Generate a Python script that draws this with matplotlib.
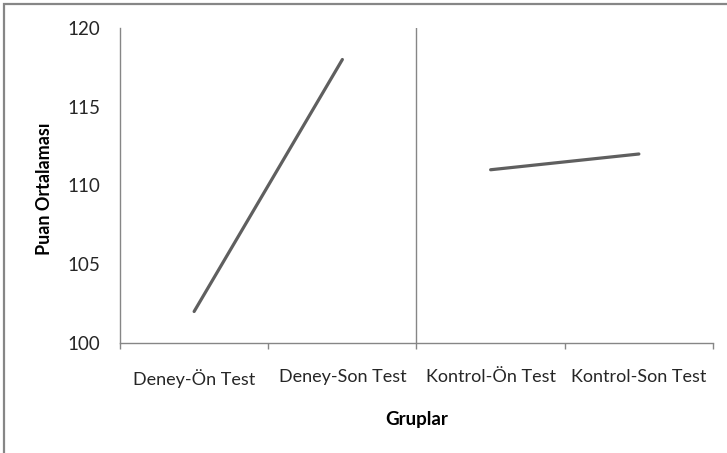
import matplotlib.pyplot as plt
from matplotlib.patches import Rectangle
import numpy as np

# data
groups = ["Deney-Ön Test", "Deney-Son Test", "Kontrol-Ön Test", "Kontrol-Son Test"]
deney = [102, 118]
kontrol = [111, 112]
y_ticks = [100, 105, 110, 115, 120]

plt.rcParams['font.family'] = ['Lato', 'DejaVu Sans']

fig = plt.figure(figsize=(7.27, 4.53), dpi=100)
ax = fig.add_axes([120 / 727, 1 - 343 / 453, 593 / 727, 315 / 453])

x = np.arange(len(groups))
line_color = '#5f5f5f'
ax.plot(x[:2], deney, color=line_color, lw=2.3, solid_capstyle='round')
ax.plot(x[2:], kontrol, color=line_color, lw=2.3, solid_capstyle='round')

ax.set_xlim(-0.5, len(groups) - 0.5)
ax.set_ylim(y_ticks[0], y_ticks[-1])
ax.set_yticks(y_ticks)
ax.set_xticks(x)
ax.set_xticklabels(groups)
ax.set_xticks(np.arange(-0.5, len(groups), 1), minor=True)

# separator between the two groups
ax.axvline(1.5, color='#868686', lw=1)

for side in ['top', 'right']:
    ax.spines[side].set_visible(False)
for side in ['left', 'bottom']:
    ax.spines[side].set_color('#868686')
    ax.spines[side].set_linewidth(1)

ax.tick_params(axis='y', length=0, pad=14, labelsize=13.5, labelcolor='#262626')
ax.tick_params(axis='x', which='major', length=0, pad=19, labelsize=13, labelcolor='#262626')
ax.tick_params(axis='x', which='minor', length=4, color='#868686', width=1)

ax.set_ylabel("Puan Ortalaması", fontsize=13, fontweight='bold')
ax.set_xlabel("Gruplar", fontsize=13.5, fontweight='bold')
ax.yaxis.set_label_coords(-0.113, 0.49)
ax.xaxis.set_label_coords(0.5, -0.216)

# outer chart border
fig.patches.append(Rectangle((4 / 727, -0.1), 1.2, 1 - 4 / 453 + 0.1, transform=fig.transFigure,
                             fill=False, edgecolor='#868686', lw=1.6))

fig.savefig("out.png", dpi=100)
